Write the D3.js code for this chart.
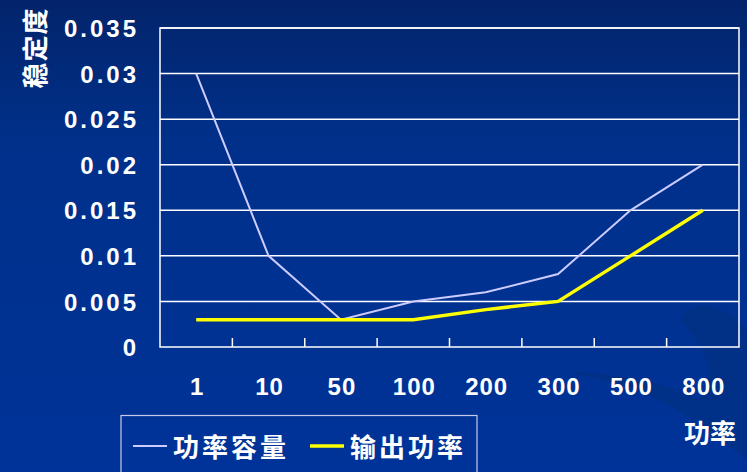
<!DOCTYPE html>
<html><head><meta charset="utf-8">
<script src="https://cdn.jsdelivr.net/npm/d3@7"></script>
<style>body{margin:0;padding:0;overflow:hidden;background:#003399}</style>
</head><body>
<svg id="c" width="747" height="472"></svg>
<script>
const categories = ["1","10","50","100","200","300","500","800"];
const capacity = [0.03,0.01,0.003,0.005,0.006,0.008,0.015,0.02];
const output = [0.003,0.003,0.003,0.003,0.0041,0.005,0.01,0.015];
const yTicks = [0,0.005,0.01,0.015,0.02,0.025,0.03,0.035];
const yTickLabels = ["0","0.005","0.01","0.015","0.02","0.025","0.03","0.035"];
const seriesNames = ["功率容量","输出功率"];

const svg = d3.select("#c");
const W=747,H=472;
const defs = svg.append("defs");
const g1 = defs.append("linearGradient").attr("id","bg").attr("x1",0).attr("y1",0).attr("x2",0).attr("y2",1);
g1.append("stop").attr("offset","0").attr("stop-color","#03246b");
g1.append("stop").attr("offset","0.3").attr("stop-color","#00308a");
g1.append("stop").attr("offset","1").attr("stop-color","#003399");
svg.append("rect").attr("width",W).attr("height",H).attr("fill","url(#bg)");
// faint swoosh lower right
svg.append("path").attr("d","M560,372 C640,380 700,420 747,460 L747,330 C720,300 690,300 680,320 C700,340 720,370 700,400 C660,380 610,372 560,372 Z")
  .attr("fill","#00307f").attr("opacity",0.6);

const L=160,R=739,T=28,B=347;
const x = d3.scaleBand().domain(categories).range([L,R]);
const y = d3.scaleLinear().domain([0,0.035]).range([B,T]);

// gridlines
svg.append("g").selectAll("line").data(yTicks.slice(1)).join("line")
  .attr("x1",L).attr("x2",R).attr("y1",d=>y(d)).attr("y2",d=>y(d))
  .attr("stroke","#ffffff").attr("stroke-width",1.5);
// border
svg.append("rect").attr("x",L).attr("y",T).attr("width",R-L).attr("height",B-T)
  .attr("fill","none").attr("stroke","#ffffff").attr("stroke-width",1.5);

// x axis inner ticks
const xa = d3.axisBottom(x).tickSize(-9).tickPadding(0).tickFormat("");
const xg = svg.append("g").attr("transform",`translate(0,${B})`).call(xa);
xg.select(".domain").remove();
xg.selectAll(".tick").attr("transform",d=>`translate(${x(d)},0)`);
xg.selectAll(".tick line").attr("stroke","#fff").attr("stroke-width",1.5);
xg.selectAll(".tick").filter((d,i)=>i===0).remove();

// x labels
svg.append("g").selectAll("text").data(categories).join("text")
  .attr("x",d=>x(d)+x.bandwidth()/2+1).attr("y",395)
  .attr("text-anchor","middle").attr("fill","#fff")
  .attr("font-family","Liberation Sans, Arial, sans-serif").attr("font-weight","bold").attr("font-size",24)
  .attr("letter-spacing",1)
  .text(d=>d);

// y labels via axis
const ya = d3.axisLeft(y).tickValues(yTicks).tickSize(0).tickPadding(0).tickFormat((d,i)=>yTickLabels[i]);
const yg = svg.append("g").attr("transform",`translate(139,0)`).call(ya);
yg.select(".domain").remove();
yg.selectAll("text").attr("fill","#fff").attr("font-family","Liberation Sans, Arial, sans-serif")
  .attr("font-weight","bold").attr("font-size",24).attr("letter-spacing",3).attr("dy","0.36em");

const line = d3.line().x((d,i)=>x(categories[i])+x.bandwidth()/2).y(d=>y(d));
svg.append("path").datum(capacity).attr("d",line).attr("fill","none").attr("stroke","#ccccff").attr("stroke-width",2);
svg.append("path").datum(output).attr("d",line).attr("fill","none").attr("stroke","#ffff00").attr("stroke-width",3.5);

// axis titles
svg.append("text").attr("transform","translate(45,48) rotate(-90)").attr("text-anchor","middle")
  .attr("fill","#fff").attr("font-family","Noto Sans CJK SC").attr("font-weight","bold").attr("font-size",26)
  .attr("letter-spacing",1).text("稳定度");
svg.append("text").attr("x",710).attr("y",443).attr("text-anchor","middle")
  .attr("fill","#fff").attr("font-family","Noto Sans CJK SC").attr("font-weight","bold").attr("font-size",26).text("功率");

// legend
svg.append("rect").attr("x",121).attr("y",415.5).attr("width",356).attr("height",70)
  .attr("fill","none").attr("stroke","#c8c8e8").attr("stroke-width",1.2);
const leg = [{name:seriesNames[0],color:"#ccccff",w:2,x:133},{name:seriesNames[1],color:"#ffff00",w:3.5,x:310}];
leg.forEach(d=>{
  svg.append("line").attr("x1",d.x).attr("x2",d.x+34).attr("y1",446).attr("y2",446).attr("stroke",d.color).attr("stroke-width",d.w);
  svg.append("text").attr("x",d.x+40).attr("y",457).attr("fill","#fff").attr("font-family","Noto Sans CJK SC")
    .attr("font-weight","bold").attr("font-size",26).attr("letter-spacing",3).text(d.name);
});
</script>
</body></html>
